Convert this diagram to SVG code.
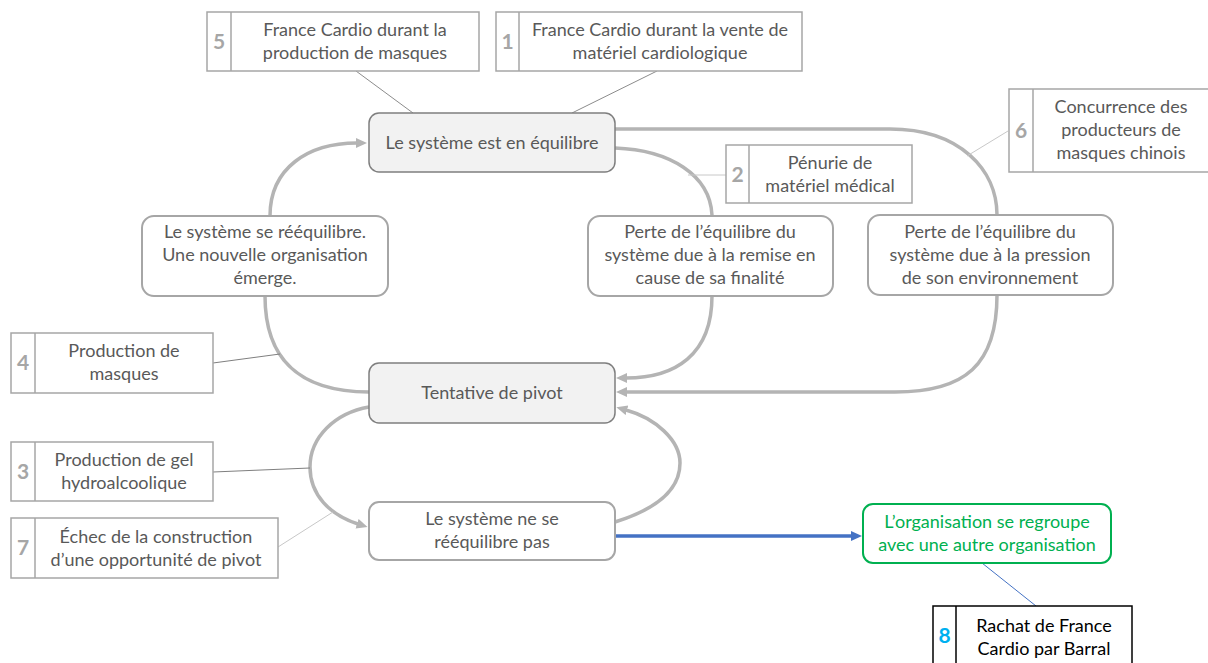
<svg xmlns="http://www.w3.org/2000/svg" width="1208" height="663" viewBox="0 0 1208 663">
<style>
text{font-family:Lato,"Open Sans","Liberation Sans",sans-serif;font-size:18px;fill:#595959;text-anchor:middle}
.num{font-weight:bold;font-size:21px;fill:#a6a6a6}
.call{fill:#fff;stroke:#a6a6a6;stroke-width:1.5}
.state{fill:#fff;stroke:#a6a6a6;stroke-width:2}
.main{fill:#f2f2f2;stroke:#7f7f7f;stroke-width:1.5}
.loop{fill:none;stroke:#b4b4b4;stroke-width:3.5}
.tie{fill:none;stroke-width:1}
</style>
<defs>
<marker id="ah" markerUnits="userSpaceOnUse" markerWidth="12" markerHeight="11" refX="1" refY="5" orient="auto"><path d="M0,0 L11,5 L0,10 z" fill="#b4b4b4"/></marker>
<marker id="ahb" markerUnits="userSpaceOnUse" markerWidth="12" markerHeight="11" refX="1" refY="5" orient="auto"><path d="M0,0 L11,5 L0,10 z" fill="#4472c4"/></marker>
</defs>
<g id="connectors">
<path class="loop" d="M270 216 C270 168 308 143 357 143" marker-end="url(#ah)"/>
<path class="loop" d="M615 129 L890 129 C960 129 997 170 997 215"/>
<path class="loop" d="M615 148 C670 150 710 175 712 215"/>
<path class="loop" d="M712 296 C712 355 675 378 626 378" marker-end="url(#ah)"/>
<path class="loop" d="M997 295 C997 365 965 392 895 392 L626 392" marker-end="url(#ah)"/>
<path class="loop" d="M265 296 C265 355 295 392 369 392"/>
<path class="loop" d="M369 407 C335 413 310 437 310 467 C310 495 330 515 358 524" marker-end="url(#ah)"/>
<path class="loop" d="M615 522 C660 508 680 487 680 463 C680 440 655 418 626 410" marker-end="url(#ah)"/>
<path fill="none" stroke="#4472c4" stroke-width="3.5" d="M615 536 L852 536" marker-end="url(#ahb)"/>
<path class="tie" stroke="#8c8c8c" d="M356 71 L413 113"/>
<path class="tie" stroke="#8c8c8c" d="M657 71 L572 113"/>
<path class="tie" stroke="#c8c8c8" d="M688 175 L726 175"/>
<path class="tie" stroke="#c8c8c8" d="M1008 131 L967 156"/>
<path class="tie" stroke="#7f7f7f" d="M213 363 L280 354"/>
<path class="tie" stroke="#7f7f7f" d="M213 472 L310 468"/>
<path class="tie" stroke="#c8c8c8" d="M278 547 L333 512"/>
<path class="tie" stroke="#4472c4" d="M982 563 L1036 606"/>
</g>
<g id="n5"><rect class="call" x="207" y="12" width="272" height="59"/><line class="call" x1="231" y1="12" x2="231" y2="71"/><text class="num" x="219" y="49">5</text><text x="355" y="36">France Cardio durant la</text><text x="355" y="59">production de masques</text></g>
<g id="n1"><rect class="call" x="496" y="12" width="306" height="59"/><line class="call" x1="519" y1="12" x2="519" y2="71"/><text class="num" x="507.5" y="49">1</text><text x="660" y="36">France Cardio durant la vente de</text><text x="660" y="59">matériel cardiologique</text></g>
<g id="eq"><rect class="main" x="369" y="113" width="246" height="59" rx="10"/><text x="492" y="149">Le système est en équilibre</text></g>
<g id="n2"><rect class="call" x="726" y="145" width="186" height="58"/><line class="call" x1="749" y1="145" x2="749" y2="203"/><text class="num" x="737.5" y="182">2</text><text x="830" y="169">Pénurie de</text><text x="830" y="192">matériel médical</text></g>
<g id="n6"><rect class="call" x="1009" y="89" width="202" height="83"/><line class="call" x1="1033" y1="89" x2="1033" y2="172"/><text class="num" x="1021" y="138">6</text><text x="1121" y="113">Concurrence des</text><text x="1121" y="136">producteurs de</text><text x="1121" y="159">masques chinois</text></g>
<g id="reeq"><rect class="state" x="142" y="216" width="246" height="80" rx="12"/><text x="265" y="238">Le système se rééquilibre.</text><text x="265" y="261">Une nouvelle organisation</text><text x="265" y="284">émerge.</text></g>
<g id="remise"><rect class="state" x="588" y="216" width="245" height="80" rx="12"/><text x="710" y="238">Perte de l’équilibre du</text><text x="710" y="261">système due à la remise en</text><text x="710" y="284">cause de sa finalité</text></g>
<g id="pression"><rect class="state" x="868" y="215" width="245" height="80" rx="12"/><text x="990" y="238">Perte de l’équilibre du</text><text x="990" y="261">système due à la pression</text><text x="990" y="284">de son environnement</text></g>
<g id="n4"><rect class="call" x="11" y="333" width="202" height="60"/><line class="call" x1="35" y1="333" x2="35" y2="393"/><text class="num" x="23" y="370">4</text><text x="124" y="357">Production de</text><text x="124" y="380">masques</text></g>
<g id="pivot"><rect class="main" x="369" y="363" width="246" height="60" rx="10"/><text x="492" y="399">Tentative de pivot</text></g>
<g id="n3"><rect class="call" x="11" y="442" width="202" height="59"/><line class="call" x1="35" y1="442" x2="35" y2="501"/><text class="num" x="23" y="479">3</text><text x="124" y="466">Production de gel</text><text x="124" y="489">hydroalcoolique</text></g>
<g id="n7"><rect class="call" x="11" y="518" width="267" height="60"/><line class="call" x1="35" y1="518" x2="35" y2="578"/><text class="num" x="23" y="555">7</text><text x="156" y="543">Échec de la construction</text><text x="156" y="566">d’une opportunité de pivot</text></g>
<g id="nese"><rect class="state" x="369" y="502" width="246" height="58" rx="10"/><text x="492" y="525">Le système ne se</text><text x="492" y="548">rééquilibre pas</text></g>
<g id="regroupe"><rect x="863" y="504" width="248" height="59" rx="10" fill="#fff" stroke="#00b050" stroke-width="2"/><text x="987" y="528" style="fill:#00b050">L’organisation se regroupe</text><text x="987" y="551" style="fill:#00b050">avec une autre organisation</text></g>
<g id="n8"><rect x="933" y="606" width="199" height="62" fill="#fff" stroke="#000" stroke-width="1.5"/><line x1="956" y1="606" x2="956" y2="668" stroke="#000" stroke-width="1.5"/><text class="num" x="944.5" y="643" style="fill:#00b0f0">8</text><text x="1044" y="632" style="fill:#000">Rachat de France</text><text x="1044" y="655" style="fill:#000">Cardio par Barral</text></g>
</svg>
